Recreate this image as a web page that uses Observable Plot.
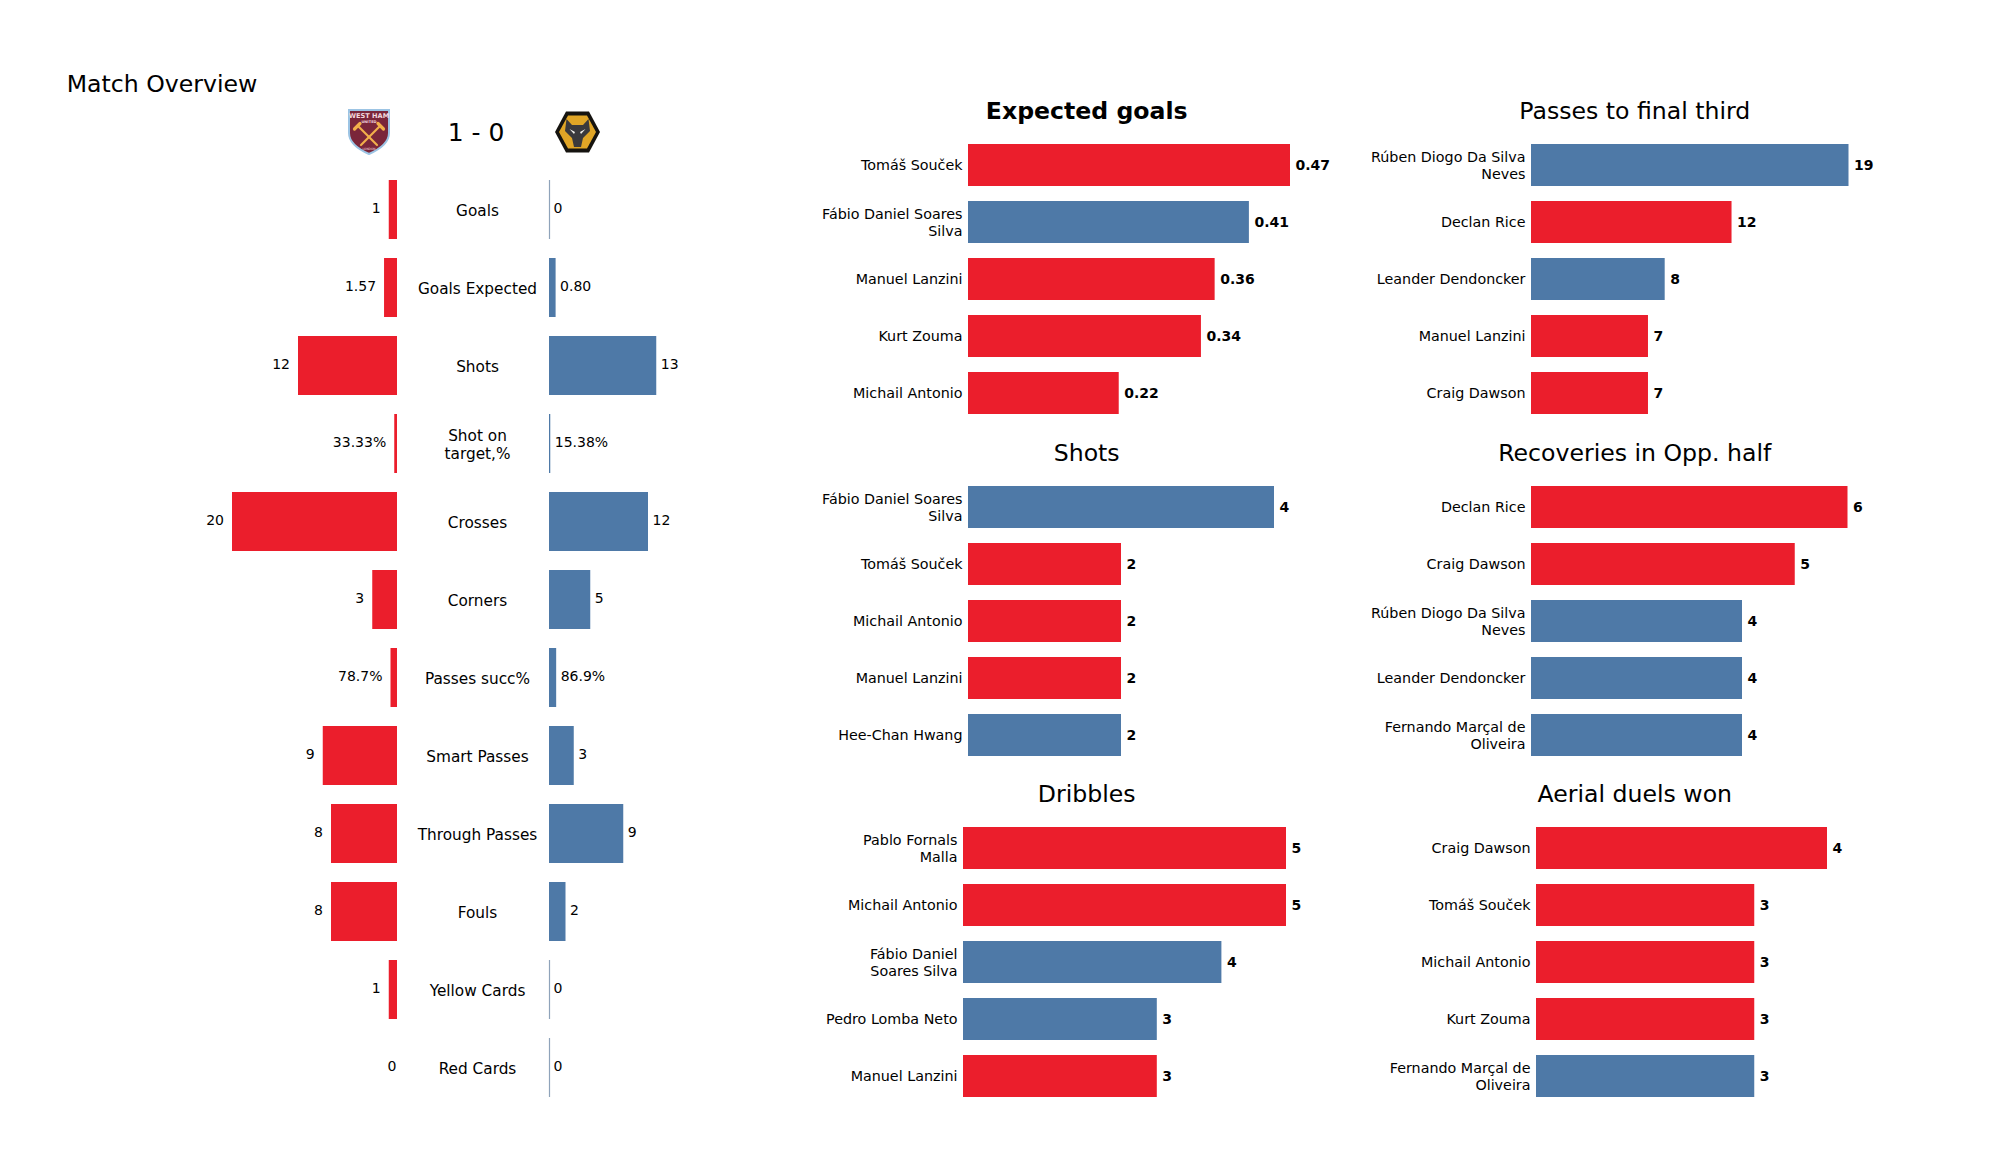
<!DOCTYPE html>
<html><head><meta charset="utf-8">
<script src="https://cdn.jsdelivr.net/npm/d3@7"></script>
<script src="https://cdn.jsdelivr.net/npm/@observablehq/plot@0.6"></script>
<style>
html,body{margin:0;padding:0;background:#fff;width:2000px;height:1175px;overflow:hidden}
body{position:relative;font-family:"DejaVu Sans",sans-serif;color:#000}
.abs{position:absolute}
.t{position:absolute;white-space:nowrap;line-height:1;transform:translate(-50%,-50%)}
</style></head><body>
<div id="root"></div>
<script>
const RED = "#EB1E2C", BLUE = "#4E79A7";
const H = "West Ham", W = "Wolves";

// Match overview
const stats = ["Goals","Goals Expected","Shots","Shot on\ntarget,%","Crosses","Corners","Passes succ%","Smart Passes","Through Passes","Fouls","Yellow Cards","Red Cards"];
const homeValues = [1,1.57,12,0.3333,20,3,0.787,9,8,8,1,0];
const awayValues = [0,0.80,13,0.1538,12,5,0.869,3,9,2,0,0];
const homeLabels = ["1","1.57","12","33.33%","20","3","78.7%","9","8","8","1","0"];
const awayLabels = ["0","0.80","13","15.38%","12","5","86.9%","3","9","2","0","0"];

// Player panels
const xgNames = ["Tomáš Souček","Fábio Daniel Soares\nSilva","Manuel Lanzini","Kurt Zouma","Michail Antonio"];
const xgValues = [0.47,0.41,0.36,0.34,0.22];
const xgTeams = [H,W,H,H,H];
const xgLabels = ["0.47","0.41","0.36","0.34","0.22"];

const passNames = ["Rúben Diogo Da Silva\nNeves","Declan Rice","Leander Dendoncker","Manuel Lanzini","Craig Dawson"];
const passValues = [19,12,8,7,7];
const passTeams = [W,H,W,H,H];

const shotNames = ["Fábio Daniel Soares\nSilva","Tomáš Souček","Michail Antonio","Manuel Lanzini","Hee-Chan Hwang"];
const shotValues = [4,2,2,2,2];
const shotTeams = [W,H,H,H,W];

const recNames = ["Declan Rice","Craig Dawson","Rúben Diogo Da Silva\nNeves","Leander Dendoncker","Fernando Marçal de\nOliveira"];
const recValues = [6,5,4,4,4];
const recTeams = [H,H,W,W,W];

const dribNames = ["Pablo Fornals\nMalla","Michail Antonio","Fábio Daniel\nSoares Silva","Pedro Lomba Neto","Manuel Lanzini"];
const dribValues = [5,5,4,3,3];
const dribTeams = [H,H,W,W,H];

const aerialNames = ["Craig Dawson","Tomáš Souček","Michail Antonio","Kurt Zouma","Fernando Marçal de\nOliveira"];
const aerialValues = [4,3,3,3,3];
const aerialTeams = [H,H,H,H,W];

const FONT = '"DejaVu Sans", sans-serif';
const root = document.getElementById("root");
const teamColor = {domain:[H,W], range:[RED,BLUE]};

function place(svg, left, top){ svg.style.position="absolute"; svg.style.left = left+"px"; svg.style.top = top+"px"; root.appendChild(svg); }
function title(txt, cx, cy, size, weight){
  const d = document.createElement("div"); d.className="t"; d.textContent=txt;
  d.style.cssText += `left:${cx}px;top:${cy}px;font-size:${size}px;font-weight:${weight||400}`;
  root.appendChild(d);
}

// ---- Overview: two mirrored bar plots and a centre column of labels
const rowTop = 170, rowH = 936, sideW = 297, sideMax = 36;
const yOverview = {domain:stats, range:[0,rowH], paddingInner:0.25, paddingOuter:0.125, axis:null};
const homeRows = stats.map((s,i)=>({stat:s,value:homeValues[i],label:homeLabels[i]}));
const awayRows = stats.map((s,i)=>({stat:s,value:awayValues[i],label:awayLabels[i]}));
const base = {width:sideW, height:rowH, marginTop:0, marginBottom:0, marginLeft:0, marginRight:0,
  style:{background:"transparent", fontFamily:FONT, fontSize:"14px", color:"#000", overflow:"visible"}};

place(Plot.plot({...base,
  x:{domain:[0,sideMax], range:[0,sideW], reverse:true, axis:null}, y:yOverview,
  marks:[
    Plot.barX(homeRows.filter(d=>d.value>0),{x:"value",y:"stat",fill:RED}),
    Plot.text(homeRows.filter(d=>d.value>0),{x:"value",y:"stat",text:"label",textAnchor:"end",dx:-8.5,dy:-1,fill:"#000",fontSize:14}),
    Plot.text(homeRows.filter(d=>d.value===0),{x:"value",y:"stat",text:"label",textAnchor:"end",dx:-1,dy:-1,fill:"#000",fontSize:14})
  ]}), 100, rowTop);

place(Plot.plot({...base,
  x:{domain:[0,sideMax], range:[0,sideW], axis:null}, y:yOverview,
  marks:[
    Plot.barX(awayRows.filter(d=>d.value>0),{x:"value",y:"stat",fill:BLUE}),
    Plot.tickX(awayRows.filter(d=>d.value===0),{x:"value",y:"stat",stroke:"#8FA3BA",strokeWidth:1.2}),
    Plot.text(awayRows,{x:"value",y:"stat",text:"label",textAnchor:"start",dx:4,dy:-1,fill:"#000",fontSize:14})
  ]}), 548.5, rowTop);

place(Plot.plot({...base, width:180,
  x:{domain:[0,1], range:[0,180], axis:null}, y:yOverview,
  marks:[Plot.text(stats,{x:()=>0.5,y:d=>d,text:d=>d,textAnchor:"middle",lineHeight:1.2,dy:0.3,fill:"#000",fontSize:15.3})]
}), 387, rowTop);

// ---- Header
title("Match Overview", 162, 85, 23.6);
title("1 - 0", 476, 131.5, 25);

const crest = document.createElement("div");
crest.innerHTML = `
<svg class="abs" style="left:346px;top:107px" width="46" height="49" viewBox="0 0 46 49">
 <path d="M3 3 H43 V26 C43 37 32 43 23 47 C14 43 3 37 3 26 Z" fill="#7A263A" stroke="#9CC4E4" stroke-width="2"/>
 <text x="23" y="10.5" text-anchor="middle" font-family="DejaVu Sans" font-weight="700" font-size="6.6" fill="#F3D9DF">WEST HAM</text>
 <text x="23" y="16" text-anchor="middle" font-family="DejaVu Sans" font-weight="700" font-size="3.6" fill="#F3D9DF">UNITED</text>
 <g stroke="#F3B04B" stroke-width="2.2" stroke-linecap="round">
  <path d="M12 19 L31 38"/><path d="M34 19 L15 38"/>
  <path d="M8.5 22 L14 16.5" stroke-width="3.2"/><path d="M37.5 22 L32 16.5" stroke-width="3.2"/>
 </g>
 <text x="23" y="43" text-anchor="middle" font-family="DejaVu Sans" font-size="3" fill="#F3D9DF">LONDON</text>
</svg>
<svg class="abs" style="left:554px;top:110px" width="47" height="44" viewBox="0 0 47 44">
 <path d="M12 1.5 H35 L46 22 L35 42.5 H12 L1 22 Z" fill="#15130F"/>
 <path d="M14 5.5 H33 L42 22 L33 38.5 H14 L5 22 Z" fill="#E0A526"/>
 <path d="M12.5 9 L18 15 H29 L34.5 9 L36 21 L29 28 L27 37 H20 L18 28 L11 21 Z" fill="#3A393C"/>
 <path d="M15.5 19 L21 22 L20 24 Z M31.5 19 L26 22 L27 24 Z" fill="#F1EFEA"/>
</svg>`;
root.appendChild(crest);

// ---- Player panels
function panel({names, values, teams, labels, x0, barLen, centre0, ttl, tx, ty, bold}){
  const step = 57.6, ml = 280, mr = 70;
  const rows = names.map((n,i)=>({name:n,value:values[i],team:teams[i],label:labels?labels[i]:String(values[i])}));
  const svg = Plot.plot({
    width: ml+barLen+mr, height: step*5, marginLeft:ml, marginRight:mr, marginTop:0, marginBottom:0,
    style:{background:"transparent", fontFamily:FONT, fontSize:"14.3px", color:"#000", overflow:"visible"},
    x:{domain:[0,values[0]], range:[ml,ml+barLen], axis:null},
    y:{domain:names, range:[0,step*5], paddingInner:0.265, paddingOuter:0.1325, label:null},
    color:teamColor,
    marks:[
      Plot.barX(rows,{x:"value",y:"name",fill:"team"}),
      Plot.axisY({domain:names, anchor:"left", tickSize:0, tickPadding:6, dy:-0.7, label:null, lineHeight:1.22, fontSize:14.3, fill:"#000", tickFormat:d=>d}),
      Plot.text(rows,{x:"value",y:"name",text:"label",textAnchor:"start",dx:5,dy:0,fontWeight:"bold",fontSize:14,fill:"#000"})
    ]
  });
  place(svg, x0-ml, centre0-step/2);
  title(ttl, tx, ty, 23.6, bold?700:400);
}
const c1 = 1086.7, c2 = 1634.8;
panel({names:xgNames,values:xgValues,teams:xgTeams,labels:xgLabels,x0:968,barLen:322,centre0:163.5,ttl:"Expected goals",tx:c1,ty:111.5,bold:true});
panel({names:passNames,values:passValues,teams:passTeams,x0:1530.5,barLen:317.5,centre0:163.5,ttl:"Passes to final third",tx:c2,ty:112});
panel({names:shotNames,values:shotValues,teams:shotTeams,x0:968,barLen:306,centre0:505.5,ttl:"Shots",tx:c1,ty:454});
panel({names:recNames,values:recValues,teams:recTeams,x0:1530.5,barLen:316.5,centre0:505.5,ttl:"Recoveries in Opp. half",tx:c2,ty:454});
panel({names:dribNames,values:dribValues,teams:dribTeams,x0:963,barLen:323,centre0:846.5,ttl:"Dribbles",tx:c1,ty:794.5});
panel({names:aerialNames,values:aerialValues,teams:aerialTeams,x0:1535.5,barLen:291,centre0:846.5,ttl:"Aerial duels won",tx:c2,ty:794.5});
</script>
</body></html>
